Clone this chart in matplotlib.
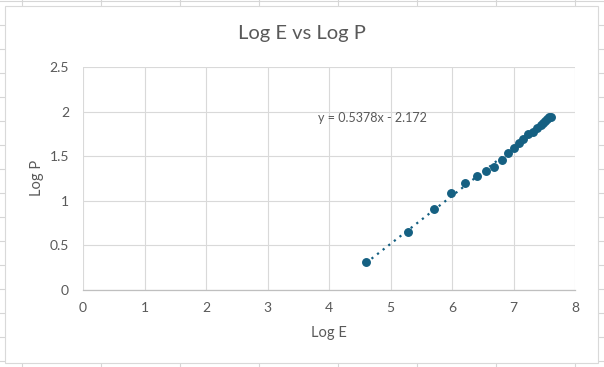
import matplotlib.pyplot as plt
import numpy as np
from matplotlib.patches import Rectangle
from matplotlib.lines import Line2D

plt.rcParams['font.family'] = ['Lato', 'DejaVu Sans']

# data
log_e = [4.60, 5.29, 5.71, 5.99, 6.21, 6.40, 6.55, 6.68, 6.81, 6.91, 7.00,
         7.09, 7.16, 7.24, 7.31, 7.38, 7.44, 7.48, 7.51, 7.55, 7.58, 7.61]
log_p = [0.317, 0.650, 0.908, 1.087, 1.200, 1.278, 1.334, 1.379, 1.461,
         1.536, 1.596, 1.650, 1.690, 1.745, 1.775, 1.813, 1.850, 1.870,
         1.890, 1.915, 1.935, 1.945]
slope = 0.5378
intercept = -2.172
x_ticks = [0, 1, 2, 3, 4, 5, 6, 7, 8]
y_ticks = [0, 0.5, 1, 1.5, 2, 2.5]

W, H = 604, 367
blue = '#156082'
grey_txt = '#595959'

fig = plt.figure(figsize=(W / 100, H / 100), dpi=100)

# spreadsheet cells behind the chart
for cx in range(22, W, 79):
    fig.add_artist(Line2D([cx / W, cx / W], [0, 1], color='#d6d6d6', lw=0.8, zorder=-3))
for ry in range(1, H, 24):
    fig.add_artist(Line2D([0, 1], [1 - ry / H, 1 - ry / H], color='#d6d6d6', lw=0.8, zorder=-3))

# chart area
fig.add_artist(Rectangle((5 / W, 1 - 363 / H), 593 / W, 357 / H,
                         transform=fig.transFigure, facecolor='white',
                         edgecolor='#d9d9d9', lw=0.8, zorder=-2))

ax = fig.add_axes([83 / W, 1 - 290 / H, 492 / W, 223 / H])
ax.set_facecolor('none')

x = np.array(log_e)
ax.plot([x.min(), x.max()], [slope * x.min() + intercept, slope * x.max() + intercept],
        color=blue, lw=1.6, linestyle=(0, (1, 2.2)), zorder=2)
ax.plot(log_e, log_p, 'o', color=blue, markersize=5.4, zorder=3)

ax.set_xlim(0, 8)
ax.set_ylim(0, 2.5)
ax.set_xticks(x_ticks)
ax.set_yticks(y_ticks)
ax.set_yticklabels(['0', '0.5', '1', '1.5', '2', '2.5'])
ax.grid(color='#d9d9d9', lw=0.8)
ax.set_axisbelow(True)
for s in ['top', 'right', 'left']:
    ax.spines[s].set_visible(False)
ax.spines['bottom'].set_color('#bfbfbf')
ax.spines['bottom'].set_linewidth(0.9)
ax.tick_params(length=0, labelsize=10, colors=grey_txt, pad=9)
ax.tick_params(axis='y', pad=10)

ax.text(3.82, 1.93, 'y = 0.5378x - 2.172', fontsize=9, color=grey_txt,
        va='center', ha='left')

fig.text(0.5, 1 - 33 / H, 'Log E vs Log P', fontsize=14.5, color=grey_txt,
         ha='center', va='center')
fig.text(329 / W, 1 - 333 / H, 'Log E', fontsize=10.5, color=grey_txt,
         ha='center', va='center')
fig.text(37 / W, 1 - 178 / H, 'Log P', fontsize=10.5, color=grey_txt,
         ha='center', va='center', rotation=90)

fig.savefig('out.png', dpi=100)
